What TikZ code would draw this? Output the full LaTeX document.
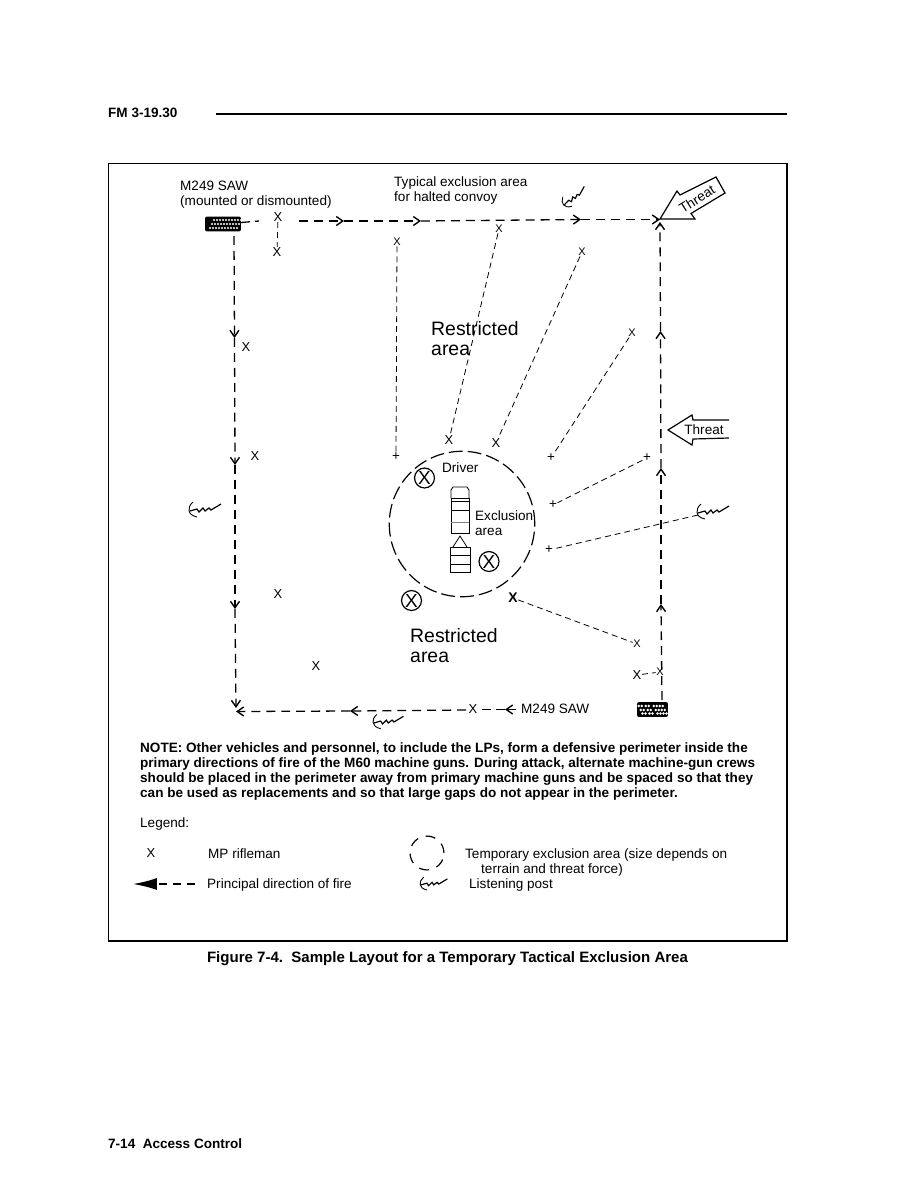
\documentclass[tikz,border=0pt]{standalone}
\usepackage{fontspec}
\setmainfont{Liberation Sans}
\usetikzlibrary{arrows.meta}
\tikzset{
  txt/.style={anchor=base west,inner sep=0pt,font=\fontsize{13.6}{15}\selectfont},
  bold/.style={anchor=base west,inner sep=0pt,font=\fontsize{13.6}{15}\selectfont\bfseries},
  big/.style={anchor=base west,inner sep=0pt,font=\fontsize{19.5}{23}\selectfont},
  mp/.style={inner sep=0.5pt,font=\fontsize{13}{14}\selectfont},
  tinymp/.style={inner sep=0.5pt,font=\fontsize{11}{12}\selectfont},
  plusmp/.style={inner sep=0.5pt,font=\fontsize{13.5}{14}\selectfont},
  barb/.style={-{Straight Barb[length=6.5pt,width=9pt,line width=1.4pt]}},
  fireline/.style={line width=1.3pt,dash pattern=on 9pt off 6pt,barb},
  sector/.style={line width=0.8pt,dash pattern=on 6pt off 4pt},
  ring/.style={draw,circle,line width=1.2pt,dash pattern=on 14pt off 5pt,inner sep=0pt},
  xcircle/.style={draw,circle,line width=1.2pt,minimum size=20pt,inner sep=0pt,font=\fontsize{19}{20}\selectfont},
  vehicle/.style={fill=black,rounded corners=2pt,minimum width=31pt,minimum height=15pt,inner sep=0pt},
  threat/.style={line width=1.2pt,line join=miter},
  lpost/.pic={
    \draw[line width=0.9pt] (3,-8) .. controls (-3,-3) and (-3,5) .. (7,7);
    \draw[line width=1.2pt] (0,1) -- (7,-1) -- (9,2) -- (13,-2) -- (15,1) -- (19,-2) -- (21,0) -- (31,-6);
  }
}
\begin{document}
\begin{tikzpicture}[x=1bp,y=-1bp]
\useasboundingbox (0,0) rectangle (923,1194);

% page furniture
\node[bold] (hdr) at (108,117.5) {FM 3-19.30};
\coordinate (rulel) at (216,113.5);
\coordinate (ruler) at (787,113.5);
\draw[line width=2pt] (rulel) -- (ruler);
\draw[line width=1.5pt] (108.5,163.5) rectangle (787,941);
\node[bold,font=\fontsize{15.1}{17}\selectfont\bfseries,anchor=base] (cap) at (447.5,962) {Figure 7-4.\ \ Sample Layout for a Temporary Tactical Exclusion Area};
\node[bold] (foot) at (108,1148) {7-14\ \ Access Control};

% labels
\node[txt] (sawtop) at (180,190.5) {M249 SAW};
\node[txt] (sawsub) at (180,205.5) {(mounted or dismounted)};
\node[txt] (typa) at (394,186.5) {Typical exclusion area};
\node[txt] (typb) at (394,201.5) {for halted convoy};
\node[big] (resa) at (431,335) {Restricted};
\node[big] (resb) at (431,355) {area};
\node[big] (resc) at (410,642) {Restricted};
\node[big] (resd) at (410,662) {area};
\node[txt] (drv) at (442,472.5) {Driver};
\node[txt] (exa) at (475,520) {Exclusion};
\node[txt] (exb) at (475,535.5) {area};
\node[txt] (sawbot) at (521,713.5) {M249 SAW};

% vehicles
\node[vehicle,minimum width=36pt] (sawa) at (223,224) {};
\node[vehicle] (sawb) at (652.5,709.5) {};
\foreach \dx in {-11,-8,...,16}
  \foreach \dy in {-4,0,4}
    \fill[white] ([shift={(\dx-\dy/2,\dy)}]sawa.center) circle (1.1);
\foreach \dx in {-12,-9,-5,-2,3,6,9,12}
  \foreach \dy in {-3.5,0.5,4}
    \fill[white] ([shift={(\dx+\dy/2,\dy)}]sawb.center) circle (1.3);

% principal directions of fire
\coordinate (ta) at (259,221);
\coordinate (tb) at (299,221);
\coordinate (tc) at (344,221);
\coordinate (td) at (421,221);
\coordinate (te) at (581,219.5);
\coordinate (corner) at (660,219.5);
\coordinate (la) at (234,236);
\coordinate (lb) at (234.5,338);
\coordinate (lc) at (235,465);
\coordinate (ld) at (235,609);
\coordinate (le) at (236,708);
\coordinate (ra) at (662,700);
\coordinate (rb) at (661,604);
\coordinate (rc) at (661,468);
\coordinate (rd) at (660.5,331);
\coordinate (re) at (660,222);
\coordinate (ba) at (516,709.5);
\coordinate (bm) at (505,709.5);
\coordinate (bc) at (466,710);
\coordinate (bd) at (350,711);
\coordinate (be) at (236,711.5);
\draw[line width=1.3pt,dash pattern=on 9pt off 5pt] (sawa) -- (ta);
\foreach \a/\b in {tb/tc,tc/td,td/te,te/corner,la/lb,lb/lc,lc/ld,ld/le,ra/rb,rb/rc,rc/rd,rd/re,bc/bd,bd/be}
  \draw[fireline] (\a) -- (\b);
\draw[line width=1.3pt,barb] (ba) -- (bm);

% riflemen
\node[mp] (xa) at (278,217) {X};
\node[mp] (xb) at (277,252) {X};
\node[mp] (xc) at (246,347) {X};
\node[mp] (xd) at (255,456) {X};
\node[mp] (xe) at (278,594) {X};
\node[mp] (xf) at (316,666) {X};
\node[tinymp] (xg) at (397,242) {X};
\node[tinymp] (xh) at (499,229) {X};
\node[tinymp] (xi) at (582,252) {X};
\node[tinymp] (xj) at (632,333) {X};
\node[mp] (xk) at (449,440) {X};
\node[mp] (xl) at (496,443) {X};
\node[plusmp] (xm) at (396,457) {+};
\node[plusmp] (xn) at (551,458) {+};
\node[plusmp] (xo) at (647,458) {+};
\node[plusmp] (xp) at (553,505) {+};
\node[plusmp] (xq) at (549,550) {+};
\node[mp,font=\fontsize{14}{15}\selectfont\bfseries] (xr) at (513,598) {X};
\node[tinymp] (xs) at (637,644) {X};
\node[mp] (xt) at (637,675) {X};
\node[tinymp] (xu) at (660,672) {X};
\node[mp] (xv) at (473,709.5) {X};
\draw[line width=1.3pt,dash pattern=on 9pt off 5pt] (bm) -- (xv);

% sectors of fire
\coordinate (rlp) at (698,515);
\foreach \a/\b in {xa/xb,xg/xm,xh/xk,xi/xl,xj/xn,xo/xp,rlp/xq,xr/xs,xt/xu}
  \draw[sector] (\a) -- (\b);

% exclusion area
\node[ring,minimum size=146pt] (excl) at (462,524) {};
\node[xcircle] (da) at (424.5,478) {X};
\node[xcircle] (db) at (489,561.5) {X};
\node[xcircle] (dc) at (411.5,600.5) {X};

% truck and trailer
\draw[line width=0.8pt] (451,498) -- (451,490) -- (453,487) -- (467,487) -- (469,490) -- (469,498);
\draw[line width=0.9pt] (451,498) rectangle (469,533);
\draw[line width=0.7pt] (451,501) -- (469,501) (451,510) -- (469,510);
\draw[line width=0.4pt,gray] (451,522) -- (469,522);
\draw[line width=0.9pt] (450,547) rectangle (470,572);
\draw[line width=0.8pt] (450,555) -- (470,555) (450,564) -- (470,564);
\draw[line width=0.8pt] (453,547) -- (460,536) -- (467,547);

% threats
\draw[threat] (660,219) -- (677,191) -- (680,195) -- (716,177) -- (725,193) -- (691,213.5) -- (695,219) -- cycle;
\node[anchor=center,inner sep=0pt,rotate=32,font=\fontsize{13.6}{15}\selectfont] (tha) at (697,199) {Threat};
\draw[threat] (729,420) -- (693,420) -- (692,415) -- (668,430) -- (692,445) -- (693,439) -- (729,438);
\node[anchor=center,inner sep=0pt,font=\fontsize{13.6}{15}\selectfont] (thb) at (704,430) {Threat};

% listening posts
\pic[rotate=30,scale=0.85] at (564,204) {lpost};
\pic at (190,510) {lpost};
\pic at (698,512) {lpost};
\pic[scale=0.95] at (374,722) {lpost};

% note
\node[bold] (na) at (140,752) {NOTE: Other vehicles and personnel, to include the LPs, form a defensive perimeter inside the};
\node[bold] (nb) at (140,767) {primary directions of fire of the M60 machine guns. During attack, alternate machine-gun crews};
\node[bold] (nc) at (140,782) {should be placed in the perimeter away from primary machine guns and be spaced so that they};
\node[bold] (nd) at (140,797) {can be used as replacements and so that large gaps do not appear in the perimeter.};

% legend
\node[txt] (lega) at (140,827) {Legend:};
\node[mp] (legx) at (151,853) {X};
\node[txt] (legb) at (208,858) {MP rifleman};
\node[ring,minimum size=34pt,dash pattern=on 10pt off 8pt] (legc) at (427,853) {};
\node[txt] (legd) at (465,858) {Temporary exclusion area (size depends on};
\node[txt] (lege) at (481,873) {terrain and threat force)};
\coordinate (arra) at (195,884);
\coordinate (arrb) at (133,884);
\draw[line width=1.5pt,dash pattern=on 8pt off 6pt,-{Latex[length=24pt,width=12pt]}] (arra) -- (arrb);
\node[txt] (legf) at (207,888.5) {Principal direction of fire};
\pic[scale=0.85] at (421,884) {lpost};
\node[txt] (legg) at (469,888) {Listening post};
\end{tikzpicture}
\end{document}
